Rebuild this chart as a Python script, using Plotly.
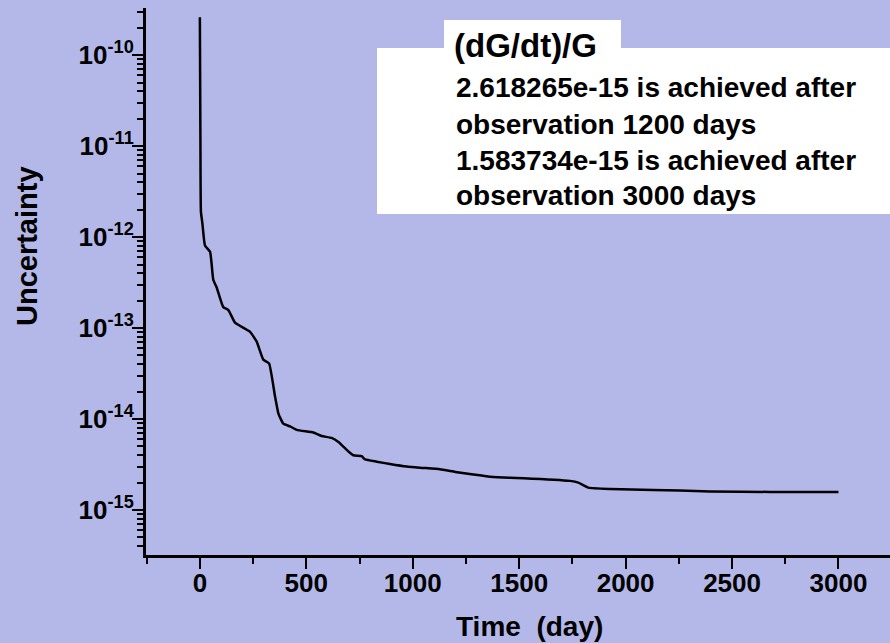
import plotly.graph_objects as go

# ---- data ----
days = [0, 2.5, 5, 12, 24, 48, 63, 79, 110, 134, 165, 236, 267, 298, 325, 353, 369,
        392, 424, 455, 533, 572, 619, 651, 698, 721, 760, 776, 831, 893, 972, 1050,
        1128, 1200, 1285, 1363, 1457, 1519, 1739, 1778, 1825, 1927, 2130, 2255, 2396,
        2678, 3000]
uncertainty = [2.62e-10, 1.38e-11, 1.91e-12, 1.41e-12, 8.1e-13, 6.9e-13, 3.4e-13, 2.8e-13,
               1.7e-13, 1.58e-13, 1.15e-13, 9.1e-14, 7.1e-14, 4.5e-14, 4.1e-14, 1.78e-14,
               1.15e-14, 8.9e-15, 8.3e-15, 7.6e-15, 7.1e-15, 6.5e-15, 6.2e-15, 5.6e-15,
               4.4e-15, 4.0e-15, 3.9e-15, 3.6e-15, 3.4e-15, 3.2e-15, 3.0e-15, 2.9e-15,
               2.8e-15, 2.62e-15, 2.45e-15, 2.32e-15, 2.26e-15, 2.24e-15, 2.09e-15, 2.0e-15,
               1.76e-15, 1.70e-15, 1.66e-15, 1.64e-15, 1.60e-15, 1.58e-15, 1.58e-15]

y_tickvals = [1e-15, 1e-14, 1e-13, 1e-12, 1e-11, 1e-10]
y_ticktext = ["10<sup>-15</sup>", "10<sup>-14</sup>", "10<sup>-13</sup>",
              "10<sup>-12</sup>", "10<sup>-11</sup>", "10<sup>-10</sup>"]
x_tickvals = [0, 500, 1000, 1500, 2000, 2500, 3000]

box_title = "(dG/dt)/G"
box_lines = ["2.618265e-15 is achieved after",
             "observation 1200 days",
             "1.583734e-15 is achieved after",
             "observation 3000 days"]

# ---- layout geometry (pixels) ----
W, H = 890, 643
L, R, T, B = 146, 0, 8, 88
pw, ph = W - L - R, H - T - B
BG = "rgb(180,184,232)"
FONT = "Liberation Sans, Arial, sans-serif"


def px(xp):
    return (xp - L) / pw


def py(yp):
    return (H - B - yp) / ph


fig = go.Figure()
fig.add_trace(go.Scatter(x=days, y=uncertainty, mode="lines",
                         line=dict(color="black", width=2.5, shape="spline", smoothing=0.4),
                         showlegend=False, hoverinfo="skip"))

fig.update_layout(
    width=W, height=H,
    margin=dict(l=L, r=R, t=T, b=B, pad=0),
    paper_bgcolor=BG, plot_bgcolor=BG,
    font=dict(family=FONT, color="black", size=26, weight="bold"),
    showlegend=False,
)

fig.update_xaxes(
    range=[-253, 3242], showgrid=False, zeroline=False,
    showline=True, linecolor="black", linewidth=3,
    tickmode="array", tickvals=x_tickvals, ticks="outside", ticklen=11, tickwidth=2,
    tickcolor="black", tickfont=dict(size=26, family=FONT, weight="bold"),
    ticklabelstandoff=-8,
    minor=dict(dtick=250, tick0=-250, ticks="outside", ticklen=6, tickwidth=2, tickcolor="black",
               showgrid=False),
)
fig.update_yaxes(
    type="log", range=[-15.495, -9.48], showgrid=False, zeroline=False,
    showline=True, linecolor="black", linewidth=3,
    tickmode="array", tickvals=y_tickvals, ticktext=y_ticktext,
    ticks="outside", ticklen=11, tickwidth=2, tickcolor="black",
    tickfont=dict(size=26, family=FONT, weight="bold"),
    ticklabelstandoff=-7,
    minor=dict(dtick="D1", ticks="outside", ticklen=6, tickwidth=2, tickcolor="black",
               showgrid=False),
)

# white annotation box with tab
fig.add_shape(type="rect", xref="paper", yref="paper", layer="below",
              x0=px(377), x1=px(892), y0=py(214), y1=py(48),
              fillcolor="white", line=dict(width=0))
fig.add_shape(type="rect", xref="paper", yref="paper", layer="below",
              x0=px(444), x1=px(621), y0=py(49), y1=py(20),
              fillcolor="white", line=dict(width=0))

fig.add_annotation(xref="paper", yref="paper", x=px(452), y=py(45),
                   xanchor="left", yanchor="middle", showarrow=False,
                   text=box_title, font=dict(size=33, family=FONT, weight="bold"))
line_y = [87, 124, 160, 196]
for txt, yy in zip(box_lines, line_y):
    fig.add_annotation(xref="paper", yref="paper", x=px(454), y=py(yy),
                       xanchor="left", yanchor="middle", showarrow=False,
                       text=txt, font=dict(size=28, family=FONT, weight="bold"))

# axis titles
fig.add_annotation(xref="paper", yref="paper", x=px(529), y=py(626),
                   xanchor="center", yanchor="middle", showarrow=False,
                   text="Time\u00a0\u00a0(day)", font=dict(size=28, family=FONT, weight="bold"))
fig.add_annotation(xref="paper", yref="paper", x=px(27), y=py(246),
                   xanchor="center", yanchor="middle", showarrow=False, textangle=-90,
                   text="Uncertainty", font=dict(size=29, family=FONT, weight="bold"))

fig.write_html("out.html")
